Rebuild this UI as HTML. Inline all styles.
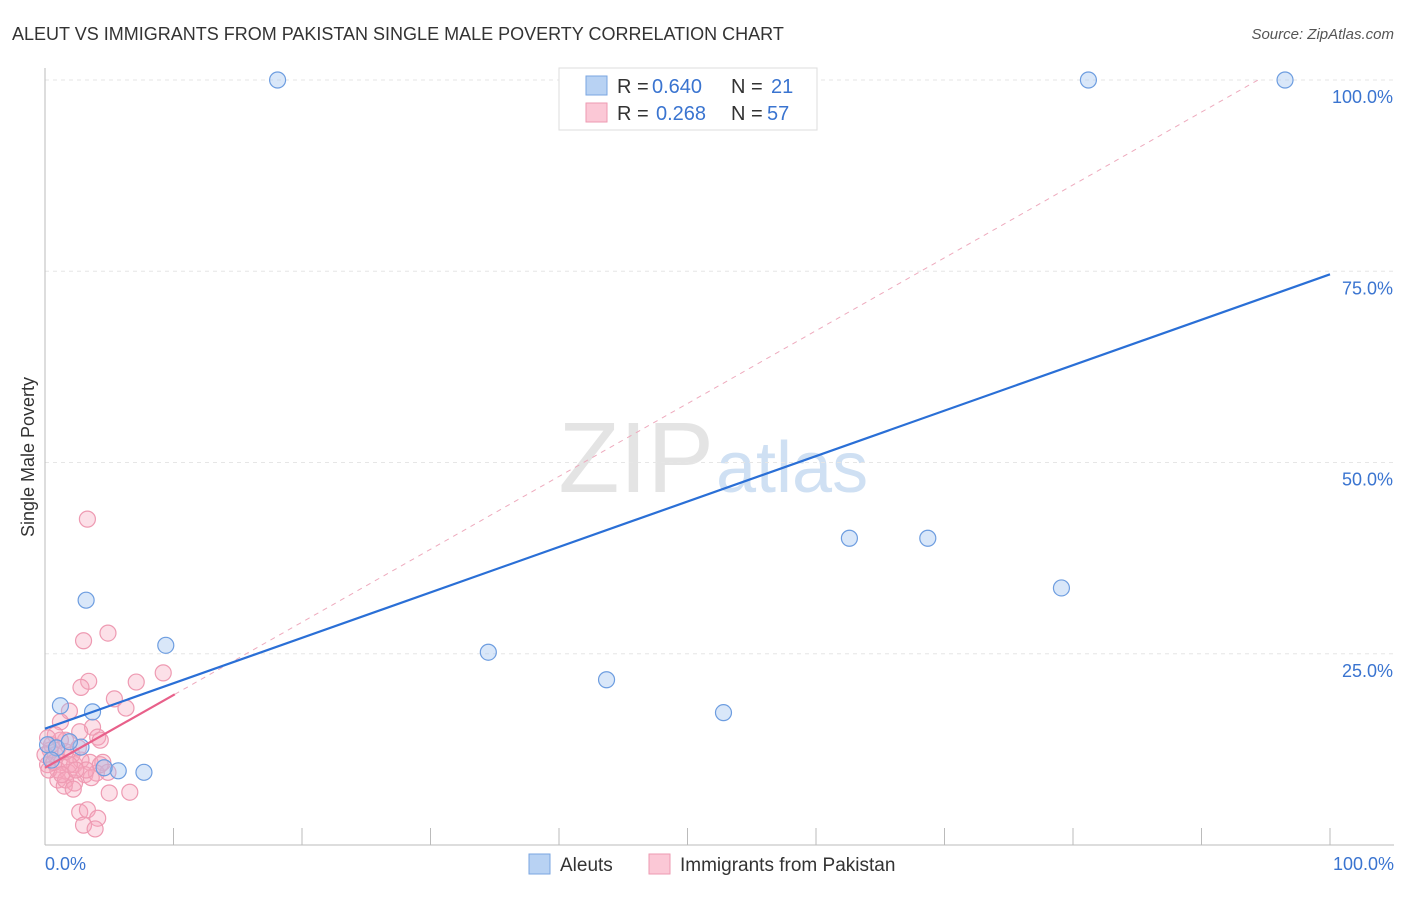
<!DOCTYPE html>
<html><head><meta charset="utf-8"><style>
body{margin:0;background:#fff;font-family:"Liberation Sans",sans-serif}
svg text{font-family:"Liberation Sans",sans-serif}
</style></head><body>
<svg id="chart" width="1406" height="892" viewBox="0 0 1406 892">
<text x="12" y="40" font-size="18" fill="#333">ALEUT VS IMMIGRANTS FROM PAKISTAN SINGLE MALE POVERTY CORRELATION CHART</text>
<text x="1394" y="39" font-size="15" fill="#555" font-style="italic" text-anchor="end">Source: ZipAtlas.com</text>
<text x="34" y="457" font-size="18" fill="#333" text-anchor="middle" transform="rotate(-90 34 457)">Single Male Poverty</text>
<text x="714" y="492" font-size="100" fill="#e4e4e4" font-family="Liberation Serif" text-anchor="end">ZIP</text>
<text x="716" y="492" font-size="72" fill="#cfe0f3">atlas</text>
<g id="grid"></g><g id="pts"></g><g id="lines"></g>
<g>
<rect x="559" y="68" width="258" height="62" fill="#fff" stroke="#ddd"/>
<rect x="586" y="76" width="21" height="19" fill="#b8d2f3" stroke="#7aa6e0"/>
<rect x="586" y="103" width="21" height="19" fill="#fbc8d6" stroke="#ee9ab2"/>
<text x="617" y="93" font-size="20" fill="#333">R = <tspan x="652" fill="#3a74d0">0.640</tspan><tspan x="731">N = </tspan><tspan x="771" fill="#3a74d0">21</tspan></text>
<text x="617" y="120" font-size="20" fill="#333">R = <tspan x="656" fill="#3a74d0">0.268</tspan><tspan x="731">N = </tspan><tspan x="767" fill="#3a74d0">57</tspan></text>
</g>
<g>
<rect x="529" y="854" width="21" height="20" fill="#b8d2f3" stroke="#7aa6e0"/>
<text x="560" y="871" font-size="19" fill="#333">Aleuts</text>
<rect x="649" y="854" width="21" height="20" fill="#fbc8d6" stroke="#ee9ab2"/>
<text x="680" y="871" font-size="19" fill="#333">Immigrants from Pakistan</text>
</g>
</svg>
<script>
const yTicks=[100,75,50,25];
const yTickLabels=["100.0%","75.0%","50.0%","25.0%"];
const xTickLabels=["0.0%","100.0%"];
const aleutX=[18.1,81.2,96.5,3.2,9.4,1.2,3.7,34.5,43.7,52.8,62.6,68.7,79.1,5.7,7.7,4.6,2.8,0.2,0.9,1.9,0.5];
const aleutY=[100,100,100,32.0,26.1,18.2,17.4,25.2,21.6,17.3,40.1,40.1,33.6,9.7,9.5,10.1,12.8,13.1,12.7,13.5,11.1];
const pakX=[3.3,3.0,4.9,3.4,2.8,7.1,9.2,5.4,6.3,1.9,1.2,3.7,4.1,2.7,1.6,0.4,0.8,1.3,2.3,3.5,4.5,1.8,3.1,4.0,1.0,2.3,1.5,4.9,5.0,6.6,2.7,3.3,4.1,3.0,3.9,0.2,0.5,1.0,2.1,2.8,1.2,1.6,0.3,1.9,2.6,0.8,4.3,1.6,3.6,2.2,0,0.7,3.2,1.3,2.4,4.3,0.2];
const pakY=[42.6,26.7,27.7,21.4,20.6,21.3,22.5,19.1,17.9,17.5,16.1,15.4,14.1,14.8,13.7,12.4,11.8,10.8,10.5,10.8,10.8,9.5,9.2,9.4,8.5,8.1,7.7,9.5,6.8,6.9,4.3,4.6,3.5,2.6,2.1,10.5,13.1,9.8,11.8,11.1,13.7,12.2,9.8,10.5,12.7,14.4,13.7,8.5,8.8,7.3,11.8,10.8,9.8,9.2,9.8,10.5,14.0];
const aleutTrend=[15.2,74.6];
const pakTrend=[10.1,19.7];
const pakTrendEndX=10.1;
const NS="http://www.w3.org/2000/svg";
const X=v=>45+v*12.85, Y=v=>845-v*7.65;
function mk(t,a,p){const e=document.createElementNS(NS,t);for(const k in a)e.setAttribute(k,a[k]);p.appendChild(e);return e;}
const grid=document.getElementById('grid'),pts=document.getElementById('pts'),lines=document.getElementById('lines'),svg=document.getElementById('chart');
yTicks.forEach((v,i)=>{
 const l=mk('line',{x1:45,x2:1394,y1:Y(v),y2:Y(v),stroke:'#e6e6e6','stroke-dasharray':'4,4'},grid);
 
 
 const t=mk('text',{x:1393,y:Y(v)+23,'font-size':18,fill:'#3a74d0','text-anchor':'end'},svg);
 t.textContent=yTickLabels[i];
 
 
});
const ax=mk('line',{x1:45,x2:45,y1:68,y2:845,stroke:'#bbb'},grid);


const bx=mk('line',{x1:45,x2:1394,y1:845,y2:845,stroke:'#bbb'},grid);


for(let i=1;i<=10;i++){const tk=mk('line',{x1:X(i*10),x2:X(i*10),y1:828,y2:845,stroke:'#bbb'},grid);
 
 }
xTickLabels.forEach((s,i)=>{const t=mk('text',{x:i?1394:45,y:870,'font-size':18,fill:'#3a74d0','text-anchor':i?'end':'start'},svg);t.textContent=s;
 
 });
pakX.forEach((x,i)=>{const c=mk('circle',{cx:X(x),cy:Y(pakY[i]),r:8,fill:'rgba(246,166,190,0.35)',stroke:'#ee9ab2','stroke-width':1.2},pts);
 
 });
aleutX.forEach((x,i)=>{const c=mk('circle',{cx:X(x),cy:Y(aleutY[i]),r:8,fill:'rgba(160,195,240,0.4)',stroke:'#6d9de0','stroke-width':1.2},pts);
 
 });
const d=mk('line',{x1:X(pakTrendEndX),y1:Y(pakTrend[1]),x2:X(94.4),y2:Y(100),stroke:'#eeaabd','stroke-dasharray':'5,5','stroke-width':1},lines);


const b=mk('line',{x1:X(0),y1:Y(aleutTrend[0]),x2:X(100),y2:Y(aleutTrend[1]),stroke:'#2a6fd6','stroke-width':2.2},lines);


const p=mk('line',{x1:X(0),y1:Y(pakTrend[0]),x2:X(pakTrendEndX),y2:Y(pakTrend[1]),stroke:'#e8608a','stroke-width':2.2},lines);


</script>
</body></html>
